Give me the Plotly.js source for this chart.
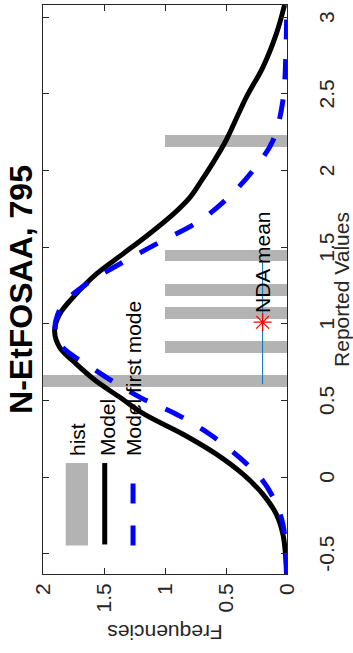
<!DOCTYPE html>
<html><head><meta charset="utf-8">
<script src="https://cdn.plot.ly/plotly-3.0.1.min.js"></script>
<style>
html,body{margin:0;padding:0;width:353px;height:653px;overflow:hidden;background:#fff;}
#wrap{position:absolute;left:0;top:653px;width:653px;height:353px;transform-origin:0 0;transform:rotate(-90deg);}
#chart{width:653px;height:353px;}
</style></head><body>
<div id="wrap"><div id="chart"></div></div>
<script>
// ---- data ----
const histCenters = [0.625, 0.848, 1.071, 1.221, 1.447, 2.191];
const histCounts  = [2, 1, 1, 1, 1, 1];
const histWidth = 0.075;

const modelX = [-0.633,-0.5,-0.375,-0.244,-0.113,0.018,0.149,0.279,0.41,0.52,0.63,0.737,0.845,0.954,1.063,1.172,1.325,1.456,1.586,1.717,1.83,1.935,2.04,2.196,2.479,2.675,2.893,3.08];
const modelY = [0.004,0.013,0.033,0.087,0.197,0.361,0.579,0.852,1.17,1.37,1.57,1.726,1.863,1.905,1.863,1.754,1.562,1.344,1.13,0.93,0.79,0.70,0.615,0.50,0.333,0.197,0.087,0.02];

const firstModeX = [-0.633,-0.45,-0.311,-0.178,-0.026,0.126,0.279,0.41,0.518,0.693,0.867,0.97,1.02,1.129,1.259,1.39,1.521,1.68,1.848,2.02,2.196,2.46,2.8,3.08];
const firstModeY = [0.002,0.012,0.033,0.087,0.197,0.388,0.633,0.907,1.2,1.562,1.863,1.9,1.895,1.836,1.644,1.371,1.07,0.7,0.45,0.26,0.115,0.033,0.008,0.002];

const ndaMean = [1.01];
const ndaY = [0.2];
const ndaPlus = [0.39];
const ndaMinus = [0.405];
const ndaLabel = 'NDA mean';

const xTickVals = [-0.5, 0, 0.5, 1, 1.5, 2, 2.5, 3];
const xTickText = ['-0.5', '0', '0.5', '1', '1.5', '2', '2.5', '3'];
const yTickVals = [0, 0.5, 1, 1.5, 2];
const yTickText = ['0', '0.5', '1', '1.5', '2'];

const legendNames = ['hist', 'Model', 'Model first mode'];
const titleText = 'N-EtFOSAA, 795';
const xLabel = 'Reported Values';
const yLabel = 'Frequencies';

// ---- styles ----
const FONT = 'Liberation Sans, Arial, Helvetica, sans-serif';
const AX = '#262626';
const GRAY = '#b3b3b3';
const BLUE = '#0000ff';

const traces = [
  {type:'bar', x:histCenters, y:histCounts, width:histWidth,
   marker:{color:GRAY, line:{width:0}}, name:legendNames[0], showlegend:false},
  {type:'scatter', mode:'lines', x:modelX, y:modelY, name:legendNames[1],
   line:{color:'#000', width:5, shape:'spline', smoothing:1}, showlegend:false},
  {type:'scatter', mode:'lines', x:firstModeX, y:firstModeY, name:legendNames[2],
   line:{color:BLUE, width:5, dash:'20px,20px', shape:'spline', smoothing:1}, showlegend:false},
  {type:'scatter', mode:'markers', x:ndaMean, y:ndaY, name:ndaLabel, showlegend:false,
   error_x:{type:'data', symmetric:false, array:ndaPlus, arrayminus:ndaMinus,
            color:'#0072BD', thickness:1, width:0},
   marker:{symbol:'asterisk-open', size:15, color:'#ff0000', line:{color:'#ff0000', width:1.3}}}
];

// legend drawn as layout decoration (paper coordinates)
const legX0 = 0.0499, legX1 = 0.195, legTextX = 0.203;
const legRows = [0.861, 0.747, 0.631];
const shapes = [
  {type:'rect', xref:'paper', yref:'paper', x0:legX0, x1:legX1, y0:0.8156, y1:0.907,
   fillcolor:GRAY, line:{width:0}},
  {type:'line', xref:'paper', yref:'paper', x0:legX0+0.002, x1:legX1, y0:legRows[1], y1:legRows[1],
   line:{color:'#000', width:5}},
  {type:'line', xref:'paper', yref:'paper', x0:legX0, x1:legX1, y0:legRows[2], y1:legRows[2],
   line:{color:BLUE, width:5, dash:'20px,22px'}}
];
const annotations = legendNames.map((t, i) => ({
  text:t, xref:'paper', yref:'paper', x:legTextX, y:[0.86,0.737,0.628][i],
  xanchor:'left', yanchor:'middle', showarrow:false, font:{family:FONT, size:21, color:'#000'}
}));
annotations.push({text:ndaLabel, x:1.055, y:ndaY[0], xref:'x', yref:'y', xanchor:'left', yanchor:'middle',
  showarrow:false, font:{family:FONT, size:21, color:'#000'}});

const layout = {
  width:653, height:353,
  margin:{l:79, r:5, t:43, b:66, pad:0},
  paper_bgcolor:'#fff', plot_bgcolor:'#fff',
  font:{family:FONT, size:21, color:AX},
  title:{text:titleText, font:{family:FONT, size:32, weight:'bold', color:'#000'},
         x:0.5, xref:'paper', xanchor:'center', y:1-10/353, yref:'container', yanchor:'top'},
  xaxis:{range:[-0.633, 3.08], tickmode:'array', tickvals:xTickVals, ticktext:xTickText,
         ticks:'inside', ticklen:6, tickwidth:1, tickcolor:AX, showline:true, linecolor:AX, linewidth:1,
         mirror:'ticks', showgrid:false, zeroline:false, automargin:false, ticklabelstandoff:21,
         tickfont:{family:FONT, size:21, color:AX},
         title:{text:xLabel, font:{family:FONT, size:21, color:AX}, standoff:0}},
  yaxis:{range:[0, 2], tickmode:'array', tickvals:yTickVals, ticktext:yTickText,
         ticks:'inside', ticklen:6, tickwidth:1, tickcolor:AX, showline:true, linecolor:AX, linewidth:1,
         mirror:'ticks', showgrid:false, zeroline:false, automargin:false, ticklabelstandoff:4,
         tickfont:{family:FONT, size:21, color:AX},
         title:{text:yLabel, font:{family:FONT, size:21, color:AX}, standoff:6}},
  bargap:0, barmode:'overlay',
  showlegend:false,
  shapes:shapes, annotations:annotations
};

Plotly.newPlot('chart', traces, layout, {staticPlot:true, displayModeBar:false});
</script></body></html>
